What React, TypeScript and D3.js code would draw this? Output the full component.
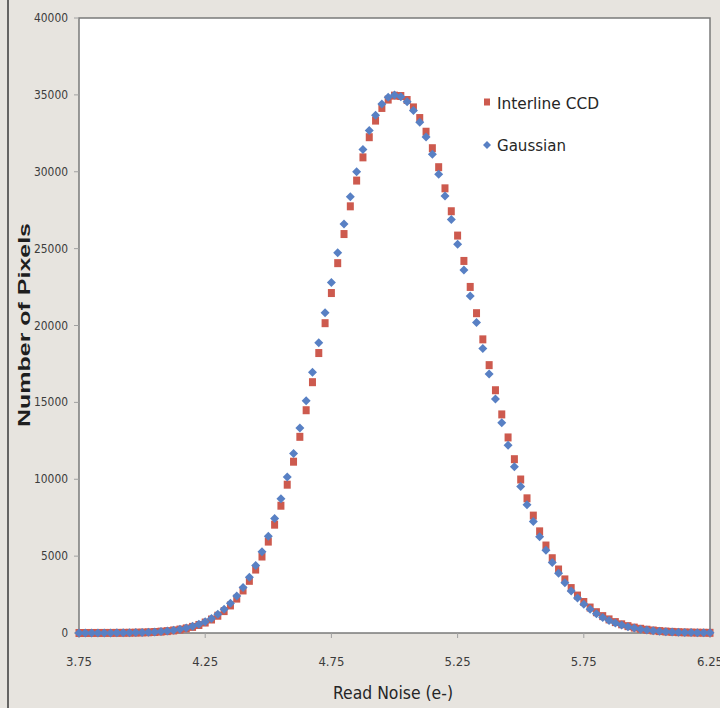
import React from 'react';
import * as d3 from 'd3';

// read noise histogram, x in e-, step 0.025
const readNoise = [
  3.75, 3.775, 3.8, 3.825, 3.85, 3.875, 3.9, 3.925, 3.95, 3.975,
  4.0, 4.025, 4.05, 4.075, 4.1, 4.125, 4.15, 4.175, 4.2, 4.225,
  4.25, 4.275, 4.3, 4.325, 4.35, 4.375, 4.4, 4.425, 4.45, 4.475,
  4.5, 4.525, 4.55, 4.575, 4.6, 4.625, 4.65, 4.675, 4.7, 4.725,
  4.75, 4.775, 4.8, 4.825, 4.85, 4.875, 4.9, 4.925, 4.95, 4.975,
  5.0, 5.025, 5.05, 5.075, 5.1, 5.125, 5.15, 5.175, 5.2, 5.225,
  5.25, 5.275, 5.3, 5.325, 5.35, 5.375, 5.4, 5.425, 5.45, 5.475,
  5.5, 5.525, 5.55, 5.575, 5.6, 5.625, 5.65, 5.675, 5.7, 5.725,
  5.75, 5.775, 5.8, 5.825, 5.85, 5.875, 5.9, 5.925, 5.95, 5.975,
  6.0, 6.025, 6.05, 6.075, 6.1, 6.125, 6.15, 6.175, 6.2, 6.225,
  6.25,
];

const interlineCCD = [
  0, 1, 2, 3, 4, 5, 8, 11, 16, 23,
  33, 47, 65, 90, 122, 166, 225, 300, 397, 522,
  680, 877, 1123, 1425, 1793, 2237, 2767, 3393, 4126, 4974,
  5945, 7046, 8279, 9646, 11142, 12759, 14489, 16313, 18208, 20151,
  22111, 24055, 25948, 27751, 29426, 30936, 32247, 33327, 34150, 34694,
  34950, 34926, 34666, 34185, 33493, 32603, 31531, 30296, 28921, 27431,
  25848, 24199, 22509, 20801, 19098, 17422, 15789, 14217, 12719, 11304,
  9983, 8759, 7635, 6611, 5689, 4863, 4130, 3485, 2922, 2435,
  2015, 1656, 1353, 1098, 885, 709, 565, 446, 351, 274,
  213, 164, 125, 95, 72, 54, 40, 30, 22, 16,
  11,
];

const gaussian = [
  1, 1, 2, 3, 4, 6, 9, 13, 18, 26,
  37, 52, 72, 99, 135, 183, 247, 329, 434, 569,
  739, 951, 1215, 1538, 1930, 2402, 2963, 3624, 4396, 5285,
  6300, 7447, 8727, 10141, 11681, 13340, 15107, 16962, 18879, 20836,
  22798, 24732, 26603, 28369, 29995, 31443, 32680, 33675, 34405, 34850,
  35000, 34886, 34548, 33990, 33226, 32267, 31134, 29845, 28424, 26896,
  25283, 23616, 21913, 20202, 18504, 16839, 15224, 13675, 12204, 10820,
  9532, 8342, 7254, 6265, 5379, 4585, 3885, 3270, 2735, 2273,
  1876, 1538, 1253, 1014, 816, 652, 518, 408, 320, 249,
  193, 148, 113, 86, 65, 48, 36, 27, 20, 14,
  10,
];

const xTicks = [3.75, 4.25, 4.75, 5.25, 5.75, 6.25];
const yTicks = [0, 5000, 10000, 15000, 20000, 25000, 30000, 35000, 40000];

const W = 720;
const H = 708;
const RED = '#cd5a4e';
const BLUE = '#5880c4';
const numFont = '"DejaVu Sans Condensed", "Liberation Sans Narrow", "DejaVu Sans", sans-serif';

export default function App() {
  const plot = { left: 79, right: 710, top: 18, bottom: 633 };

  const x = d3.scaleLinear().domain([3.75, 6.25]).range([plot.left, plot.right]);
  const y = d3.scaleLinear().domain([0, 40000]).range([plot.bottom, plot.top]);

  const diamond = (r: number) => `M0,${-r}L${r},0L0,${r}L${-r},0Z`;

  return (
    <svg width={W} height={H} style={{ position: 'absolute', left: 0, top: 0 }}>
      <rect x={0} y={0} width={W} height={H} fill="#e7e4df" />
      <line x1={8} x2={8} y1={0} y2={H} stroke="#3a3a3a" strokeWidth={1.5} />

      <rect
        x={plot.left}
        y={plot.top}
        width={plot.right - plot.left}
        height={plot.bottom - plot.top}
        fill="#ffffff"
        stroke="#7a7a7a"
        strokeWidth={1.5}
      />

      {/* y axis */}
      {yTicks.map((t) => (
        <g key={t}>
          <line x1={plot.left - 5} x2={plot.left} y1={y(t)} y2={y(t)} stroke="#a0a0a0" />
          <text
            x={68}
            y={y(t)}
            dy="0.35em"
            textAnchor="end"
            fontFamily={numFont}
            fontSize={11.5}
            fill="#3c3c3c"
            textLength={t === 0 ? undefined : t < 10000 ? 27 : 34}
            lengthAdjust="spacingAndGlyphs"
          >
            {t}
          </text>
        </g>
      ))}

      {/* x axis */}
      {xTicks.map((t) => (
        <g key={t}>
          <line x1={x(t)} x2={x(t)} y1={plot.bottom} y2={plot.bottom + 5} stroke="#a0a0a0" />
          <text
            x={x(t)}
            y={662}
            dy="0.35em"
            textAnchor="middle"
            fontFamily={numFont}
            fontSize={11.5}
            fill="#3c3c3c"
            textLength={26}
            lengthAdjust="spacingAndGlyphs"
          >
            {t.toFixed(2)}
          </text>
        </g>
      ))}

      {/* series */}
      <g>
        {readNoise.map((v, i) => (
          <rect
            key={'r' + i}
            x={x(v) - 3.5}
            y={y(interlineCCD[i]) - 4}
            width={7}
            height={8}
            fill={RED}
          />
        ))}
      </g>
      <g>
        {readNoise.map((v, i) => (
          <path
            key={'g' + i}
            transform={`translate(${x(v)},${y(gaussian[i])})`}
            d={diamond(4.5)}
            fill={BLUE}
          />
        ))}
      </g>

      {/* legend */}
      <rect x={484} y={98.5} width={6} height={7} fill={RED} />
      <text x={497} y={103} dy="0.35em" fontFamily={numFont} fontSize={16} fill="#262626"
        textLength={102} lengthAdjust="spacingAndGlyphs">
        Interline CCD
      </text>
      <path transform="translate(487,145)" d={diamond(4)} fill={BLUE} />
      <text x={497} y={145} dy="0.35em" fontFamily={numFont} fontSize={16} fill="#262626"
        textLength={69} lengthAdjust="spacingAndGlyphs">
        Gaussian
      </text>

      {/* axis titles */}
      <text x={393} y={693} dy="0.35em" textAnchor="middle" fontFamily={numFont} fontSize={17}
        fill="#262626" textLength={120} lengthAdjust="spacingAndGlyphs">
        Read Noise (e-)
      </text>
      <text
        transform="translate(24,325) rotate(-90)"
        dy="0.35em"
        textAnchor="middle"
        fontFamily='"Liberation Sans", Arial, sans-serif'
        fontWeight="bold"
        fontSize={16}
        fill="#1e1e1e"
        textLength={204}
        lengthAdjust="spacingAndGlyphs"
      >
        Number of Pixels
      </text>
    </svg>
  );
}
